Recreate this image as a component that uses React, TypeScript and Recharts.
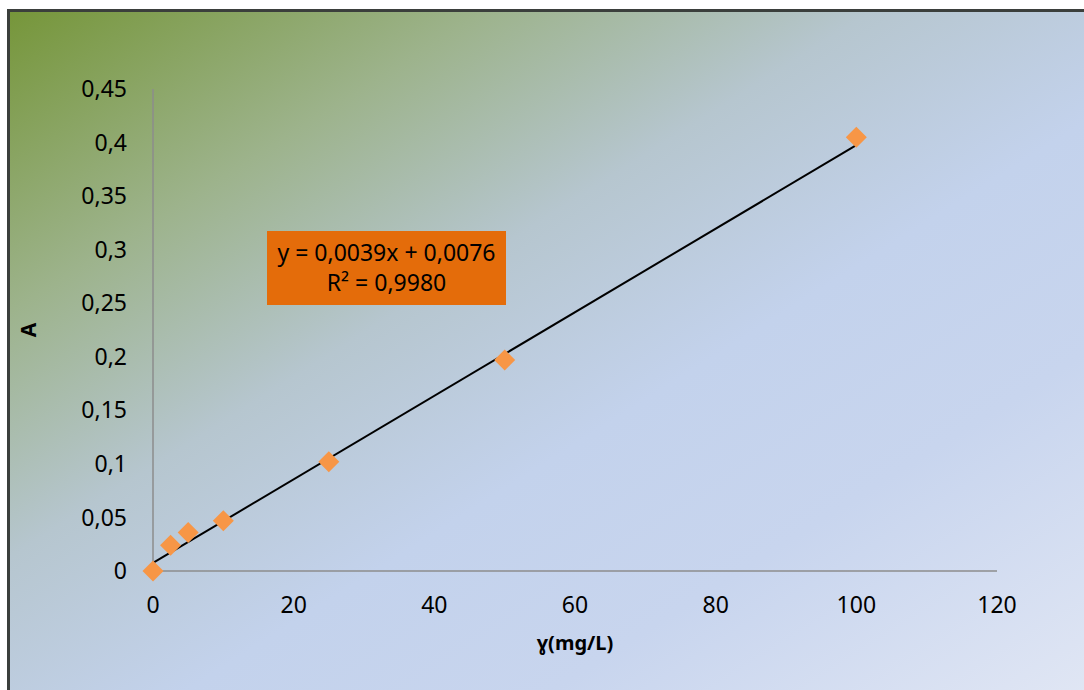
import { ComposedChart, Scatter, Line, XAxis, YAxis, Label } from "recharts";

// calibration points
const concentrations = [0, 2.5, 5, 10, 25, 50, 100];
const absorbances = [0, 0.024, 0.036, 0.047, 0.102, 0.197, 0.405];

// trendline end points from the label: y = 0,0039x + 0,0076
const trendX = [0, 100];
const trendY = [0.0076, 0.3976];

const xTicks = [0, 20, 40, 60, 80, 100, 120];
const yTicks = [0, 0.05, 0.1, 0.15, 0.2, 0.25, 0.3, 0.35, 0.4, 0.45];

const equationText = "y = 0,0039x + 0,0076";
const r2Text = "R² = 0,9980";

const points = concentrations.map((x, i) => ({ x, y: absorbances[i] }));
const trend = trendX.map((x, i) => ({ x, t: trendY[i] }));

const FONT = "'Noto Sans', 'Open Sans', sans-serif";
const comma = (v: number) => String(v).replace(".", ",");

const Diamond = (props: any) => {
  const { cx, cy } = props;
  const r = 10.5;
  return (
    <polygon
      points={`${cx},${cy - r} ${cx + r},${cy} ${cx},${cy + r} ${cx - r},${cy}`}
      fill="#F79646"
    />
  );
};

export default function App() {
  return (
    <div
      style={{
        position: "fixed",
        left: 0,
        top: 0,
        width: 1084,
        height: 690,
        background: "#fff",
        overflow: "hidden",
        fontFamily: FONT,
      }}
    >
      <div
        style={{
          position: "absolute",
          left: 7,
          top: 9,
          width: 1077,
          height: 681,
          borderLeft: "3px solid #3b3f3c",
          borderTop: "3px solid #3b3f3c",
          background:
            "linear-gradient(to bottom right, #76963a 0%, #9db38c 22%, #b6c6cf 40%, #c3d2ec 58%, #c8d5ee 75%, #e0e6f4 100%)",
        }}
      />
      <div style={{ position: "absolute", left: 0, top: 0 }}>
        <ComposedChart
          width={1084}
          height={690}
          margin={{ top: 89, right: 87, bottom: 0, left: 0 }}
        >
          <XAxis
            type="number"
            dataKey="x"
            domain={[0, 120]}
            ticks={xTicks}
            interval={0}
            height={119}
            tickLine={false}
            tickSize={0}
            tickMargin={26}
            axisLine={{ stroke: "#8c8c8c", strokeWidth: 1.5 }}
            tick={{ fill: "#000", fontSize: 23, fontFamily: FONT }}
          >
            <Label
              value="ɣ(mg/L)"
              position="insideTop"
              offset={65}
              style={{ fill: "#000", fontSize: 20, fontWeight: "bold", fontFamily: FONT }}
            />
          </XAxis>
          <YAxis
            type="number"
            domain={[0, 0.45]}
            ticks={yTicks}
            interval={0}
            width={153}
            tickLine={false}
            tickSize={0}
            tickMargin={26}
            tickFormatter={comma}
            axisLine={{ stroke: "#8c8c8c", strokeWidth: 1.5 }}
            tick={{ fill: "#000", fontSize: 23, fontFamily: FONT }}
          >
            <Label
              value="A"
              angle={-90}
              position="insideLeft"
              offset={29}
              style={{ fill: "#000", fontSize: 21, fontWeight: "bold", fontFamily: FONT, textAnchor: "middle" }}
            />
          </YAxis>
          <Line
            data={trend}
            dataKey="t"
            stroke="#000"
            strokeWidth={2}
            dot={false}
            activeDot={false}
            isAnimationActive={false}
          />
          <Scatter
            data={points}
            dataKey="y"
            shape={<Diamond />}
            isAnimationActive={false}
          />
        </ComposedChart>
      </div>
      <div
        style={{
          position: "absolute",
          left: 267,
          top: 231,
          width: 239,
          height: 74,
          background: "#E46C0A",
          color: "#000",
          fontSize: 23,
          lineHeight: "30px",
          textAlign: "center",
          paddingTop: 6,
          boxSizing: "border-box",
        }}
      >
        <div>{equationText}</div>
        <div>{r2Text}</div>
      </div>
    </div>
  );
}
